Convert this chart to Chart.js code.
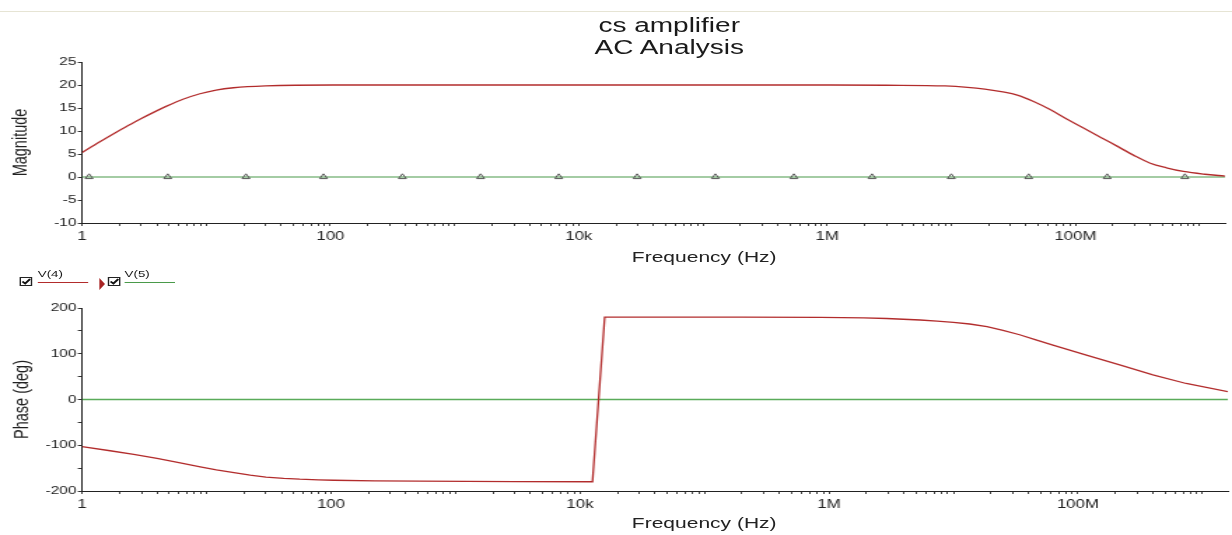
<!DOCTYPE html>
<html>
<head>
<meta charset="utf-8">
<title>cs amplifier - AC Analysis</title>
<script src="https://cdn.jsdelivr.net/npm/chart.js@4.4.1/dist/chart.umd.min.js"></script>
<style>
  html, body { margin: 0; padding: 0; background: #fff; overflow: hidden; }
  /* the original screenshot is stretched sideways, so the whole stage is too */
  #stage { position: absolute; left: 0; top: 0; width: 880px; height: 535px;
           transform: scaleX(1.4); transform-origin: 0 0;
           font-family: "Liberation Sans", Arial, sans-serif; color: #1a1a1a; }
  #topbar { position: absolute; left: 0; top: 11px; width: 880px; height: 1px; background: #e6e4d4; }
  #title { position: absolute; left: 378px; top: 14px; width: 200px; text-align: center;
           font-size: 20px; line-height: 22px; }
  .xtitle { position: absolute; left: 403px; width: 200px; text-align: center;
            font-size: 15px; line-height: 18px; color: #222; }
  canvas { position: absolute; left: 0; }
  #magChart { top: 0; }
  #phaseChart { top: 290px; }
  .box { position: absolute; top: 277px; width: 9px; height: 9px; box-sizing: border-box;
         border: 1px solid #222; border-left-width: 1.5px; border-bottom-width: 1.5px; background: #fff; }
  .box svg { position: absolute; left: 0; top: 0; }
  .lbl { position: absolute; top: 269px; font-size: 9.5px; line-height: 10px; }
  .swatch { position: absolute; top: 282px; width: 36px; height: 1px; }
  #cursor { position: absolute; left: 71px; top: 278px; width: 0; height: 0;
            border-left: 4px solid #a82424; border-top: 6px solid transparent; border-bottom: 6px solid transparent; }
</style>
</head>
<body>
<div id="stage">
  <div id="topbar"></div>
  <div id="title">cs amplifier<br>AC Analysis</div>
  <canvas id="magChart" width="880" height="265"></canvas>
  <div class="xtitle" style="top:248px">Frequency (Hz)</div>

  <div class="box" style="left:14px"><svg width="7" height="7" viewBox="0 0 7 7"><path d="M1 3.5 L3 5.5 L6.5 1" stroke="#111" stroke-width="1.6" fill="none"/></svg></div>
  <div class="lbl" style="left:27px">V(4)</div>
  <div class="swatch" style="left:27px;background:#b22c2c"></div>
  <div id="cursor"></div>
  <div class="box" style="left:77px"><svg width="7" height="7" viewBox="0 0 7 7"><path d="M1 3.5 L3 5.5 L6.5 1" stroke="#111" stroke-width="1.6" fill="none"/></svg></div>
  <div class="lbl" style="left:89px">V(5)</div>
  <div class="swatch" style="left:89px;background:#4a9a4a"></div>

  <canvas id="phaseChart" width="880" height="242"></canvas>
  <div class="xtitle" style="top:514px">Frequency (Hz)</div>
</div>
<script>
// V(4) magnitude
const magFreq = [1, 1.38, 1.9, 2.4, 2.95, 3.8, 4.8, 6.5, 8.9, 12, 16.6, 30, 105, 1e4, 1e6, 3e6,
                 8.9e6, 1.35e7, 1.86e7, 2.6e7, 3.4e7, 4.6e7, 6.3e7, 8.5e7, 1.17e8, 1.6e8, 2.2e8,
                 2.95e8, 4e8, 5.4e8, 7.4e8, 1.1e9, 1.6e9];
const magV4 = [5.3, 7.6, 9.8, 11.3, 12.6, 14.1, 15.4, 16.9, 18.1, 18.9, 19.4, 19.8, 20, 20, 20, 19.95,
               19.8, 19.5, 19.1, 18.5, 17.8, 16.4, 14.6, 12.6, 10.6, 8.6, 6.6,
               4.7, 3.0, 2.0, 1.2, 0.6, 0.2];

// V(4) phase (wraps from -180 to +180 near 14 kHz)
const phaseFreq = [1, 1.68, 2.6, 4, 6, 8.9, 12, 16.6, 22.4, 30, 41.7, 56, 79, 105, 224, 513, 3000,
                   12600, 15800, 2e5, 8.5e5, 1.9e6, 2.9e6, 5.4e6, 7.4e6, 1e7, 1.35e7, 1.86e7,
                   2.5e7, 3.4e7, 4.6e7, 6.3e7, 1.17e8, 2.2e8, 4e8, 7.4e8, 1.6e9];
const phaseV4 = [-103, -112, -120, -128.5, -138, -147, -153.8, -160, -165.5, -169.5, -172.3, -174.2,
                 -175.5, -176.5, -177.8, -178.5, -179.5,
                 -179.8, 180, 180, 179.3, 178.5, 177, 173.8, 171.5, 168.7, 165, 159.5,
                 151, 141.5, 130.5, 119, 97, 75, 54, 35, 17];

// V(5) is flat at zero
const v5Freq = [1, 1.6e9];
const v5Mag = [0, 0];
const v5Phase = [0, 0];
const markerFreq = [1.14, 4.9, 20.9, 88, 380, 1620, 6900, 29500, 126000, 540000, 2.3e6, 1e7, 4.2e7, 1.8e8, 7.6e8];
const markerLevel = [0, 0, 0, 0, 0, 0, 0, 0, 0, 0, 0, 0, 0, 0, 0];

const freqTicks = [1, 100, 1e4, 1e6, 1e8];
const freqTickLabels = ['1', '100', '10k', '1M', '100M'];

const RED = '#b22c2c';
const GREEN = '#4a9a4a';
const FONT = '"Liberation Sans", Arial, sans-serif';

const pts = (xs, ys) => xs.map((x, i) => ({ x: x, y: ys[i] }));

function freqAxis(h) {
  return {
    type: 'logarithmic',
    min: 1,
    max: 1.6e9,
    afterBuildTicks: (s) => {
      const t = [];
      for (let d = 0; d <= 9; d++) {
        for (let k = 1; k <= 9; k++) {
          const v = k * Math.pow(10, d);
          if (v <= 1.6e9) t.push({ value: v });
        }
      }
      s.ticks = t;
    },
    afterFit: (s) => { s.height = h; },
    ticks: {
      autoSkip: false, maxRotation: 0, padding: 0, color: '#222',
      font: { family: FONT, size: 12, lineHeight: '22px' },
      callback: (v) => {
        const i = freqTicks.indexOf(v);
        return i < 0 ? '' : freqTickLabels[i];
      }
    },
    grid: { drawOnChartArea: false, tickLength: 3, color: '#444' },
    border: { color: '#222', width: 1 },
    title: { display: false }
  };
}

function valueAxis(min, max, step, name, titlePad, cb) {
  return {
    min: min, max: max,
    afterFit: (s) => { s.width = 58.6; },
    ticks: { stepSize: step, padding: 1, color: '#222', font: { family: FONT, size: 11 }, callback: cb },
    grid: { drawOnChartArea: false, tickLength: 3, color: '#333' },
    border: { color: '#222', width: 1 },
    title: { display: true, text: name, color: '#222',
             font: { family: FONT, size: 14.5 }, padding: { top: titlePad, bottom: 0 } }
  };
}

const common = {
  responsive: false,
  devicePixelRatio: 1,
  animation: false,
  events: [],
  plugins: { legend: { display: false }, tooltip: { enabled: false }, title: { display: false } }
};

new Chart(document.getElementById('magChart'), {
  type: 'line',
  data: {
    datasets: [
      { data: pts(magFreq, magV4), borderColor: RED, borderWidth: 1.3, pointRadius: 0,
        cubicInterpolationMode: 'monotone' },
      { data: pts(markerFreq, markerLevel), showLine: false, pointStyle: 'triangle', pointRadius: 3.2,
        pointBorderColor: '#555', pointBackgroundColor: 'rgba(255,255,255,0)', pointBorderWidth: 1 },
      { data: pts(v5Freq, v5Mag), borderColor: GREEN, borderWidth: 1.2, pointRadius: 0 }
    ]
  },
  options: Object.assign({}, common, {
    layout: { padding: { top: 62, right: 3, left: 0, bottom: 0 } },
    scales: {
      x: freqAxis(42),
      y: valueAxis(-10, 25, 5, 'Magnitude', 6.3)
    }
  })
});

new Chart(document.getElementById('phaseChart'), {
  type: 'line',
  data: {
    datasets: [
      { data: pts(phaseFreq, phaseV4), borderColor: RED, borderWidth: 1.3, pointRadius: 0 },
      { data: pts(v5Freq, v5Phase), borderColor: '#5aab5a', borderWidth: 1.5, pointRadius: 0 }
    ]
  },
  options: Object.assign({}, common, {
    layout: { padding: { top: 18, right: 3, left: 0, bottom: 0 } },
    scales: {
      x: freqAxis(41),
      y: valueAxis(-200, 200, 50, 'Phase (deg)', 7.7, (v) => (v % 100 === 0 ? String(v) : ''))
    }
  })
});
</script>
</body>
</html>
